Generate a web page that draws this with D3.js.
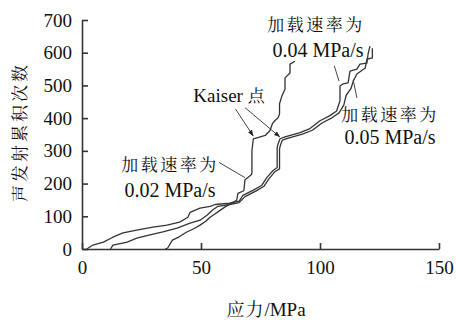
<!DOCTYPE html>
<html>
<head>
<meta charset="utf-8">
<script src="https://cdn.jsdelivr.net/npm/d3@7"></script>
</head>
<body style="margin:0">
<script>
// tick labels
const xTicks = [0, 50, 100, 150];
const yTicks = [0, 100, 200, 300, 400, 500, 600, 700];

// [stress MPa, cumulative AE count]
const rate002 = [[35,0],[36,3],[38,27],[41,38],[44,52],[47,62],[49.6,73],[52,85],[53.8,97],[56,108],[58,118],[60,128],[62,137],[65,149],[65.5,170],[68,178],[68.5,212],[71,226],[71.4,231],[71.4,301],[72,337],[73.5,340],[77,347],[79,362],[80,383],[81,392],[82.4,401],[83,413],[83,444],[84,468],[85.3,489],[85.3,523],[87.4,538],[87.4,565],[89.5,574]];

const rate004 = [[2,0],[4.6,12],[9,21],[13,36],[17.2,49],[23,58],[29.8,67],[35.7,73],[41,82],[44.5,97],[45.4,112],[49.6,125],[53.8,130],[56,136],[62,140],[66,146],[67.6,164],[72,180],[75.6,195],[77.7,219],[80.3,240],[82,249],[82,310],[82.4,322],[83.2,337],[85.3,343],[91.6,356],[95.8,368],[100,392],[104,407],[107,422],[108.4,453],[108.4,498],[109.7,505],[111.8,508],[112.6,544],[115.5,550],[116.8,565],[119.7,568],[120.2,596],[121,620]];

const rate005 = [[12,0],[13,12],[19,21],[23,33],[28.6,43],[34,52],[40,64],[45.4,79],[49.6,88],[52.5,103],[55,120],[57,130],[62,136],[66,142],[68.5,160],[73,177],[76.5,192],[78.6,215],[81,236],[83,245],[83,306],[83.4,318],[84.2,333],[86.3,338],[92.6,351],[96.8,363],[101,386],[105,401],[108,416],[110,440],[111,470],[113,490],[114,514],[115.5,535],[119,553],[119.7,580],[122,584],[122,614]];

const LATIN = "Liberation Serif";
const CJK = "Noto Serif CJK SC";

const svg = d3.select("body").append("svg")
  .attr("width", 456)
  .attr("height", 320);

const x = d3.scaleLinear().domain([0, 150]).range([82, 439]);
const y = d3.scaleLinear().domain([0, 700]).range([249, 20]);

// mixed text: Latin runs and CJK runs get their own font
function mixedText(sel, str, latinSize, cjkSize, cjkSpacing) {
  const runs = str.match(/[\u3400-\u9fff]+|[^\u3400-\u9fff]+/g);
  runs.forEach(r => {
    const isCjk = /[\u3400-\u9fff]/.test(r);
    sel.append("tspan")
      .attr("font-family", isCjk ? CJK : LATIN)
      .attr("font-size", isCjk ? cjkSize : latinSize)
      .attr("letter-spacing", isCjk ? cjkSpacing : 0)
      .text(r);
  });
  return sel;
}

// axes, ticks point inward
const yAxis = svg.append("g")
  .attr("transform", `translate(${x(0)},0)`)
  .call(d3.axisLeft(y).tickValues(yTicks).tickSizeInner(-6).tickSizeOuter(0).tickPadding(10));
const xAxis = svg.append("g")
  .attr("transform", `translate(0,${y(0)})`)
  .call(d3.axisBottom(x).tickValues(xTicks).tickSizeInner(-6).tickSizeOuter(0).tickPadding(12));

[xAxis, yAxis].forEach(a => {
  a.attr("font-family", LATIN).attr("font-size", 19);
  a.select(".domain").attr("stroke", "#333").attr("stroke-width", 1.6);
  a.selectAll(".tick line").attr("stroke", "#333").attr("stroke-width", 1.6);
  a.selectAll(".tick text").attr("fill", "#111");
});

// curves
const line = d3.line().x(d => x(d[0])).y(d => y(d[1]));
[rate002, rate004, rate005].forEach(s => {
  svg.append("path")
    .datum(s)
    .attr("fill", "none")
    .attr("stroke", "#333")
    .attr("stroke-width", 1.3)
    .attr("stroke-linejoin", "round")
    .attr("d", line);
});

// leader lines (in data units)
const leaders = [
  { from: [57.5, 265], to: [68.5, 218], arrow: false },
  { from: [106, 560], to: [108, 513], arrow: false },
  { from: [115.5, 462], to: [114, 515], arrow: false },
  { from: [64.5, 428], to: [72, 345], arrow: true },
  { from: [68.5, 432], to: [83.2, 342], arrow: true }
];
leaders.forEach(l => {
  const x1 = x(l.from[0]), y1 = y(l.from[1]);
  const x2 = x(l.to[0]), y2 = y(l.to[1]);
  svg.append("line")
    .attr("x1", x1).attr("y1", y1)
    .attr("x2", x2).attr("y2", y2)
    .attr("stroke", "#444")
    .attr("stroke-width", 1);
  if (l.arrow) {
    // small filled head at the end
    const a = Math.atan2(y2 - y1, x2 - x1);
    const c = Math.cos(a), s = Math.sin(a);
    const bx = x2 - 6 * c, by = y2 - 6 * s;
    svg.append("path")
      .attr("d", `M${x2},${y2}L${bx - 2.3 * s},${by + 2.3 * c}L${bx + 2.3 * s},${by - 2.3 * c}Z`)
      .attr("fill", "#222");
  }
});

// annotations
const notes = [
  { t: "加载速率为", x: 170, y: 165 },
  { t: "0.02 MPa/s", x: 170, y: 191 },
  { t: "加载速率为", x: 316, y: 25 },
  { t: "0.04 MPa/s", x: 318, y: 51 },
  { t: "加载速率为", x: 390, y: 115 },
  { t: "0.05 MPa/s", x: 390, y: 138 },
  { t: "Kaiser 点", x: 229, y: 96 }
];
notes.forEach(n => {
  const t = svg.append("text")
    .attr("x", n.x).attr("y", n.y)
    .attr("dy", "0.35em")
    .attr("text-anchor", "middle")
    .attr("fill", "#111");
  const kaiser = n.t.startsWith("Kaiser");
  mixedText(t, n.t, kaiser ? 19 : 20, 17, kaiser ? 0 : 2.5);
});

// axis titles
mixedText(svg.append("text")
  .attr("transform", "translate(20,132) rotate(-90)")
  .attr("dy", "0.35em")
  .attr("text-anchor", "middle")
  .attr("fill", "#111"), "声发射累积次数", 17, 17, 3);

mixedText(svg.append("text")
  .attr("x", 266).attr("y", 310)
  .attr("dy", "0.35em")
  .attr("text-anchor", "middle")
  .attr("fill", "#111"), "应力/MPa", 19, 18, 1);
</script>
</body>
</html>
